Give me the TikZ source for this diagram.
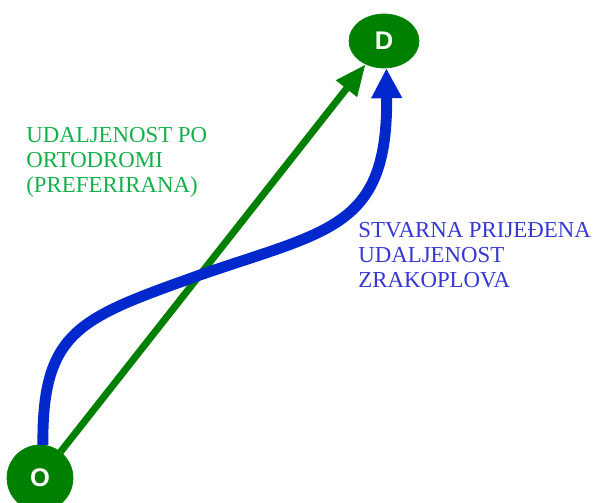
\documentclass[tikz,border=0pt]{standalone}
\usepackage{fontspec}
\setmainfont{Liberation Serif}
\newfontfamily\labelsans{Liberation Sans}
\usetikzlibrary{arrows.meta}
\usetikzlibrary{shapes.geometric}

\definecolor{pointgreen}{RGB}{0,128,0}
\definecolor{textgreen}{RGB}{20,175,75}
\definecolor{pathblue}{RGB}{0,40,205}
\definecolor{textblue}{RGB}{55,55,210}

\tikzset{
    point/.style={fill=pointgreen,draw=pointgreen,text=white,font=\labelsans\bfseries\fontsize{14.5}{16}\selectfont},
    caption/.style={anchor=north west,align=left,inner sep=0pt,font=\fontsize{13}{14.2}\selectfont}
}

\begin{document}
\begin{tikzpicture}[x=0.02cm,y=-0.02cm]
                \useasboundingbox (0,0) rectangle (596,503);

                \node[point,circle,minimum size=1.32cm,inner sep=0pt] (o) at (40,478) {O};
                \node[point,ellipse,minimum width=1.4cm,minimum height=1.08cm,inner sep=0pt] (d) at (384,41) {D};

                % great circle route
                \draw[pointgreen,line width=4pt,arrows={-Triangle[length=0.62cm,width=0.5cm]}] (o) -- (d);

                % actual flown route
                \draw[pathblue,line width=6.2pt,arrows={-Triangle[length=0.6cm,width=0.58cm]}]
                    (o.85) .. controls (42,330) and (80,318) .. (200,275)
                    .. controls (330,230) and (388,228) .. (d.-85);

                \node[caption,text=textgreen] (ortodroma) at (26,127) {UDALJENOST PO\\ORTODROMI\\(PREFERIRANA)};
                \node[caption,text=textblue] (stvarna) at (358,222) {STVARNA PRIJEĐENA\\UDALJENOST\\ZRAKOPLOVA};
\end{tikzpicture}
\end{document}
